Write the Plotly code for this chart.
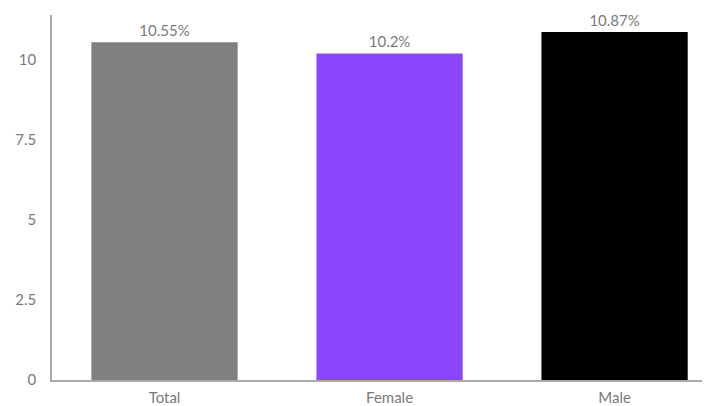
import plotly.graph_objects as go

categories = ["Total", "Female", "Male"]
values = [10.55, 10.2, 10.87]
labels = ["10.55%", "10.2%", "10.87%"]
colors = ["#808080", "#8a47fd", "#000000"]
tick_vals = [0, 2.5, 5, 7.5, 10]
tick_text = ["0", "2.5", "5", "7.5", "10"]

fig = go.Figure(go.Bar(
    x=categories, y=values, text=labels, textposition="outside",
    marker=dict(color=colors, line=dict(width=0)),
    width=0.65, cliponaxis=False,
    textfont=dict(family="Lato", size=15, color="#7a7a7a"),
))
fig.update_layout(
    width=702, height=398,
    margin=dict(l=44, r=0, t=7, b=26),
    paper_bgcolor="white", plot_bgcolor="white",
    font=dict(family="Lato", size=15, color="#7a7a7a"),
    showlegend=False,
)
fig.update_xaxes(range=[-0.5, 2.424], showline=True, linecolor="#aaaaaa", linewidth=1.5,
                 showgrid=False, ticks="", ticklabelstandoff=3,
                 tickfont=dict(size=15, color="#7a7a7a"))
fig.update_yaxes(range=[0, 11.4], showline=True, linecolor="#aaaaaa", linewidth=1.5,
                 showgrid=False, zeroline=False, ticks="", tickvals=tick_vals, ticktext=tick_text,
                 ticklabelstandoff=11, tickfont=dict(size=15, color="#7a7a7a"))
fig.write_html("out.html")
